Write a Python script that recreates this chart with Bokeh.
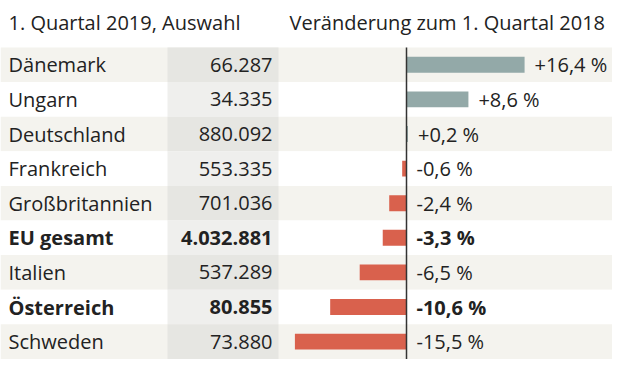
from bokeh.plotting import figure
from bokeh.models import Range1d, ColumnDataSource
from bokeh.core.properties import value
from bokeh.embed import file_html
from bokeh.resources import INLINE

# ---- data ----
countries = ["Dänemark", "Ungarn", "Deutschland", "Frankreich", "Großbritannien",
             "EU gesamt", "Italien", "Österreich", "Schweden"]
counts = [66287, 34335, 880092, 553335, 701036, 4032881, 537289, 80855, 73880]
changes = [16.4, 8.6, 0.2, -0.6, -2.4, -3.3, -6.5, -10.6, -15.5]
bold_rows = ["EU gesamt", "Österreich"]
title_left = "1. Quartal 2019, Auswahl"
title_right = "Veränderung zum 1. Quartal 2018"

# ---- layout (pixel based) ----
W, H = 612, 364
PX_PER_PCT = 7.2
ZERO_PX = 406          # x of zero line within figure
ROW_PX = 34.6
ROW0_PX = 64.3         # center of first row from top

def px_x(px):
    return (px - ZERO_PX) / PX_PER_PCT

x0 = px_x(0)
x1 = px_x(W)
y_top = -ROW0_PX / ROW_PX
y_bot = y_top + H / ROW_PX

def px_y(py):
    return y_top + py / ROW_PX

FONT = "Open Sans"
TXT = "#222222"

p = figure(width=W, height=H, output_backend="svg", toolbar_location=None,
           x_range=Range1d(x0, x1), y_range=Range1d(y_bot, y_top),
           min_border=0, tools="")
p.axis.visible = False
p.grid.visible = False
p.outline_line_color = None
p.background_fill_color = "white"
p.border_fill_color = "white"

n = len(countries)
rows = list(range(n))
fmt_counts = ["{:,}".format(c).replace(",", ".") for c in counts]
fmt_changes = [("{:+.1f} %".format(v)).replace(".", ",") for v in changes]
styles = ["bold" if c in bold_rows else "normal" for c in countries]
band_colors = ["#f4f3ee" if i % 2 == 0 else "#ffffff" for i in rows]
num_colors = ["#e6e6e2" if i % 2 == 0 else "#efefed" for i in rows]
bar_colors = ["#93a9a8" if v >= 0 else "#d9614d" for v in changes]
label_x = [max(v, 0) + 10 / PX_PER_PCT for v in changes]

src = ColumnDataSource(dict(
    row=rows, country=countries, count=fmt_counts, change=changes,
    change_label=fmt_changes, style=styles, band=band_colors, num=num_colors,
    bar=bar_colors, lx=label_x,
))

# row bands
p.hbar(y="row", left=x0, right=px_x(612), height=1.0, fill_color="band",
       line_color=None, source=src)
# number column bands
p.hbar(y="row", left=px_x(167), right=px_x(278), height=1.0, fill_color="num",
       line_color=None, source=src)
# change bars
p.hbar(y="row", left=0, right="change", height=0.46, fill_color="bar",
       line_color=None, source=src)
# zero line
p.segment(x0=[0], y0=[-0.5], x1=[0], y1=[n - 0.5], line_color="#333333",
          line_width=1.5)

# texts
p.text(x=px_x(8), y="row", text="country", text_font=value(FONT),
       text_font_size="20px", text_font_style="style", text_color=TXT,
       text_baseline="middle", text_align="left", source=src)
p.text(x=px_x(272), y="row", text="count", text_font=value(FONT),
       text_font_size="20px", text_font_style="style", text_color=TXT,
       text_baseline="middle", text_align="right", source=src)
p.text(x="lx", y="row", text="change_label", text_font=value(FONT),
       text_font_size="20px", text_font_style="style", text_color=TXT,
       text_baseline="middle", text_align="left", source=src)

# headers
p.text(x=[px_x(8)], y=[px_y(22)], text=[title_left], text_font=value(FONT),
       text_font_size="20px", text_color=TXT, text_baseline="middle",
       text_align="left")
p.text(x=[px_x(289)], y=[px_y(22)], text=[title_right], text_font=value(FONT),
       text_font_size="20px", text_color=TXT, text_baseline="middle",
       text_align="left")

open("out.html", "w").write(file_html(p, INLINE))
